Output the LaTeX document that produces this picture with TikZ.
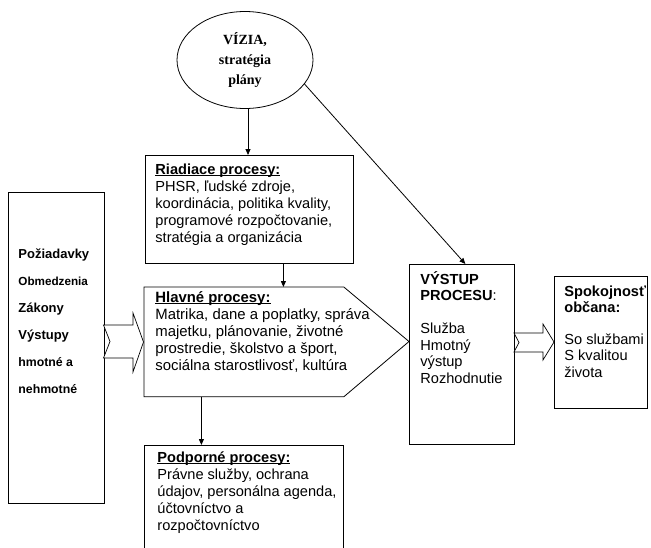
\documentclass[tikz,border=0pt]{standalone}
\usepackage{fontspec}
\setmainfont{Liberation Sans}
\newfontfamily\timesfont{Liberation Serif}
\usetikzlibrary{arrows.meta,shapes.geometric}
\newcommand\myul[1]{\setbox0\hbox{#1}\rlap{\rule[-1.8pt]{\wd0}{0.9pt}}\box0}
\newcommand\toplines[1]{\begin{tabular}[t]{@{}l@{}}#1\end{tabular}}
\begin{document}
\begin{tikzpicture}[x=1pt,y=-1pt,line width=0.8pt,
  box/.style={draw,rectangle,inner sep=0pt,anchor=north west},
  txt/.style={anchor=base west,inner sep=0pt,font=\fontsize{14.6}{17}\selectfont},
  arr/.style={-{Triangle[length=6pt,width=5pt]}},
  blockarrow/.style={draw,line width=0.7pt,fill=white,line join=miter}]
\useasboundingbox (0,0) rectangle (651,547);

% ellipse
\node (vis) [draw,ellipse,inner sep=0pt,minimum width=136pt,minimum height=97pt,
  align=center,font=\timesfont\bfseries\fontsize{14}{20}\selectfont] at (245,60)
  {VÍZIA,\\stratégia\\plány};

% boxes
\node (ri) [box,minimum width=208pt,minimum height=108pt] at (145,155) {};
\node (lb) [box,minimum width=96pt,minimum height=311pt] at (8,192) {};
\node (out) [box,minimum width=105pt,minimum height=180pt] at (409,264) {};
\node (spo) [box,minimum width=93pt,minimum height=132pt] at (554,276) {};
\node (hl) [rectangle,inner sep=0pt,anchor=north west,minimum width=199pt,minimum height=109pt] at (144,287) {};
\draw (hl.north west) -- (hl.north east) -- (409,341.5) -- (hl.south east) -- (hl.south west) -- cycle;
\node (pod) [rectangle,inner sep=0pt,anchor=north west,minimum width=199pt,minimum height=102pt] at (144,445) {};
\draw (pod.south west) -- (pod.north west) -- (pod.north east) -- (pod.south east);

% texts
\node (ritxt) [txt] at (155,174) {\toplines{\textbf{\myul{Riadiace procesy:}}\\PHSR, ľudské zdroje,\\koordinácia, politika kvality,\\programové rozpočtovanie,\\stratégia a organizácia}};
\node (hltxt) [txt,font=\fontsize{14.9}{17}\selectfont] at (155,302) {\toplines{\textbf{\myul{Hlavné procesy:}}\\Matrika, dane a poplatky, správa\\majetku, plánovanie, životné\\prostredie, školstvo a šport,\\sociálna starostlivosť, kultúra}};
\node (podtxt) [txt] at (157,462) {\toplines{\textbf{\myul{Podporné procesy:}}\\Právne služby, ochrana\\údajov, personálna agenda,\\účtovníctvo a\\rozpočtovníctvo}};
\node (outtxt) [txt,font=\fontsize{14.6}{16.5}\selectfont] at (420,284) {\toplines{\textbf{VÝSTUP}\\\textbf{PROCESU}:\\[16.5pt]Služba\\Hmotný\\výstup\\Rozhodnutie}};
\node (spotxt) [txt,font=\fontsize{14.6}{16.5}\selectfont] at (564,296) {\toplines{\textbf{Spokojnosť}\\\textbf{občana:}\\[15pt]So službami\\S kvalitou\\života}};
\node (lbtxt) [txt,font=\bfseries\fontsize{13}{27}\selectfont] at (18,258)
  {\toplines{Požiadavky\\{\fontsize{11.7}{27}\selectfont Obmedzenia}\\Zákony\\Výstupy\\{\fontsize{12.3}{27}\selectfont hmotné a}\\{\fontsize{12.3}{27}\selectfont nehmotné}}};

% connectors
\draw[arr] ([xshift=3pt]vis.south) -- ([xshift=3pt]vis.south |- ri.north);
\draw[arr] ([xshift=34pt]ri.south) -- ([xshift=34pt]ri.south |- hl.north);
\draw[arr] ([xshift=-42.5pt]hl.south) -- ([xshift=-42.5pt]hl.south |- pod.north);
\draw[arr] (vis.-22) -- ([xshift=3.5pt]out.north);

% block arrows
\draw[blockarrow] (103.5,325) -- (133,325) -- (133,313) -- (143.5,342) -- (133,372) -- (133,358) -- (103.5,358) -- (110,341.5) -- cycle;
\draw[blockarrow] (514,333) -- (543,333) -- (543,324) -- (554,342) -- (543,360) -- (543,352) -- (514,352) -- (519,342.5) -- cycle;
\end{tikzpicture}
\end{document}
